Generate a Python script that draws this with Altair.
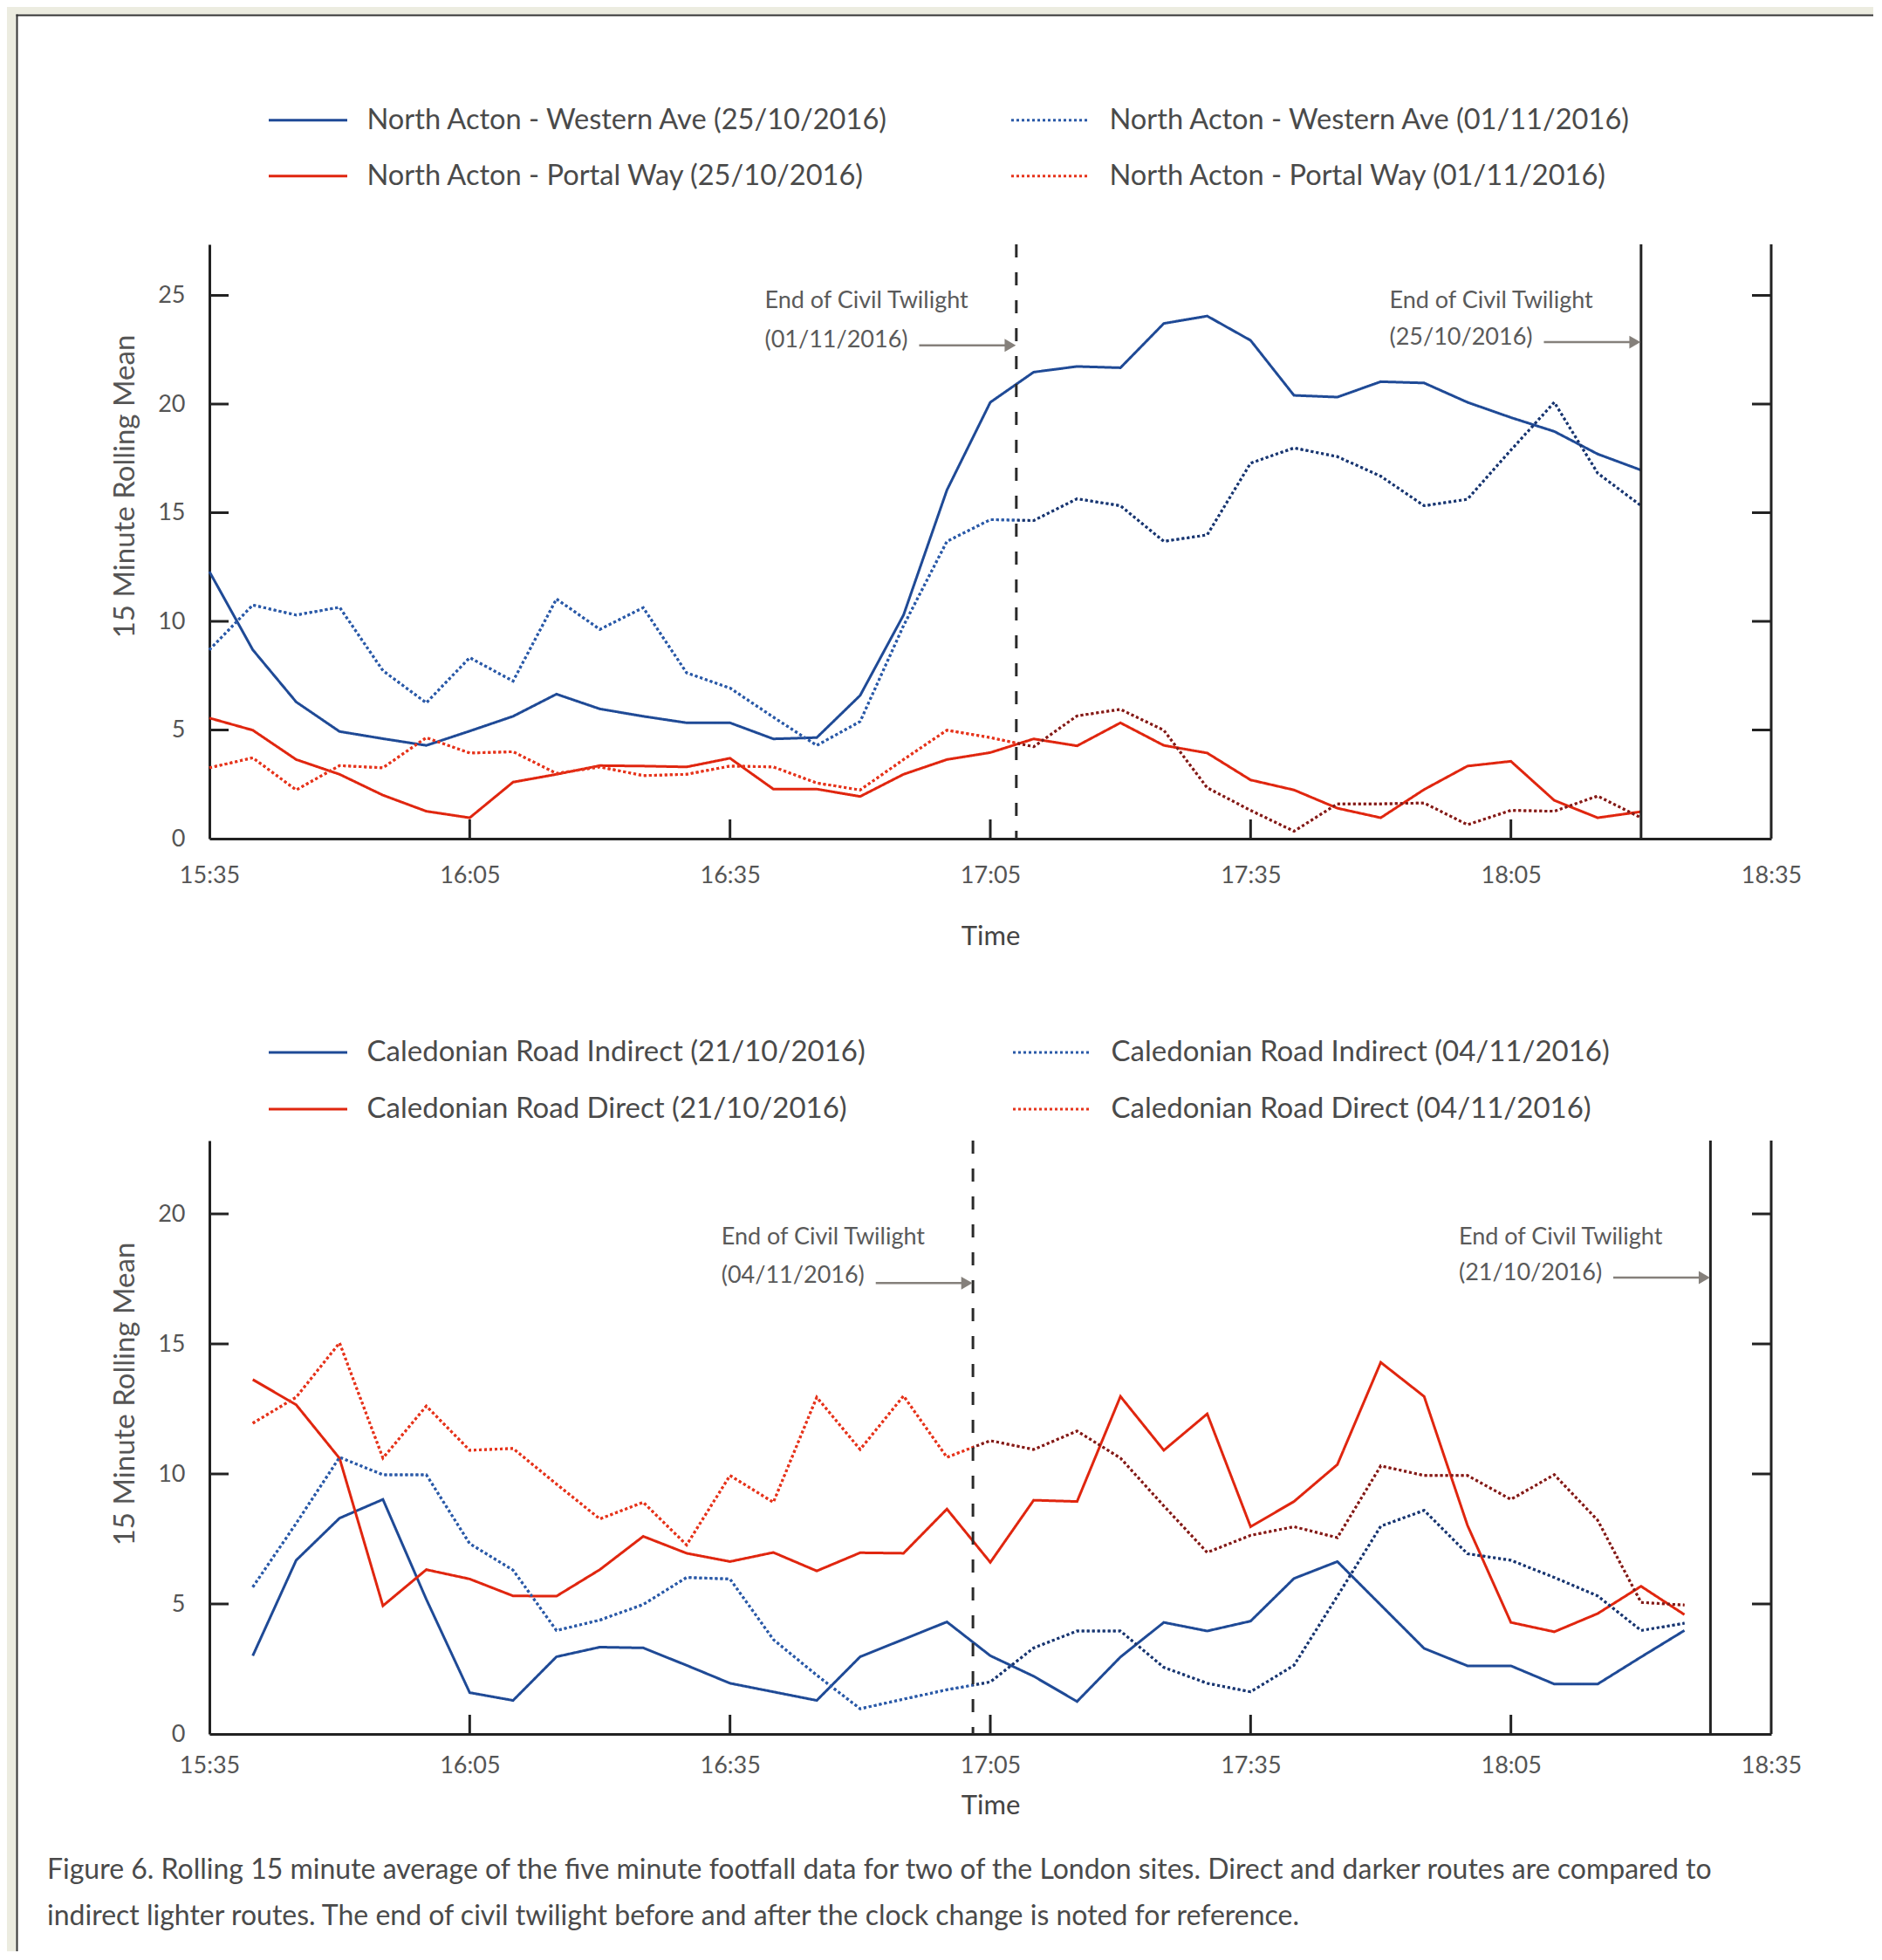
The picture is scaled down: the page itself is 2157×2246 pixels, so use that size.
import altair as alt
import pandas as pd

FONT = "Lato"
AXIS_COLOR = "#222222"
TICK_TEXT = "#555555"
LEGEND_TEXT = "#4a4a4a"
ANNOT_TEXT = "#5a5a5a"
ARROW_COLOR = "#85807b"
BEIGE = "#ecece0"
FRAME = "#333333"
BLUE = "#1f4a96"
BLUE_DOT = "#2b5aa8"
BLUE_DOT_DARK = "#1b356c"
RED = "#e0260f"
RED_DOT = "#e6341c"
RED_DOT_DARK = "#7a1d1d"
SOLID = [1, 0]
DOT = [3, 3]

W = 1790
H_TOP = 681
H_BOT = 680

# ---------------- axis definitions ----------------
XTICK_VALUES = [0, 30, 60, 90, 120, 150, 180]          # minutes after 15:35
XTICK_LABELS = ["15:35", "16:05", "16:35", "17:05", "17:35", "18:05", "18:35"]
TOP_YTICKS = [0, 5, 10, 15, 20, 25]
BOT_YTICKS = [0, 5, 10, 15, 20]
TOP_YMAX = 27.35
BOT_YMAX = 22.82

# ---------------- top panel: North Acton ----------------
TOP_TIMES = list(range(0, 166, 5))   # 15:35 ... 18:20, every 5 minutes
TOP_NAMES = [
    "North Acton - Western Ave (25/10/2016)",
    "North Acton - Western Ave (01/11/2016)",
    "North Acton - Portal Way (25/10/2016)",
    "North Acton - Portal Way (01/11/2016)",
]
WESTERN_25 = [12.29, 8.69, 6.29, 4.93, 4.6, 4.29, 4.95, 5.63, 6.65, 5.97, 5.63, 5.33,
              5.33, 4.59, 4.65, 6.59, 10.29, 16.04, 20.08,
              21.47, 21.73, 21.67, 23.71, 24.05, 22.93, 20.40, 20.32, 21.03, 20.97,
              20.08, 19.38, 18.74, 17.70, 16.96]
WESTERN_01 = [8.69, 10.75, 10.29, 10.65, 7.73, 6.25, 8.33, 7.25, 11.03, 9.63, 10.63, 7.63,
              6.93, 5.59, 4.29, 5.39, 9.8, 13.68, 14.68,
              14.64, 15.64, 15.32, 13.68, 13.98, 17.28, 17.98, 17.58, 16.68, 15.32,
              15.62, 17.88, 20.08, 16.82, 15.32]
PORTAL_25 = [5.55, 4.99, 3.64, 2.96, 2.0, 1.26, 0.96, 2.60, 2.96, 3.36, 3.34, 3.30,
             3.70, 2.28, 2.28, 1.94, 2.96, 3.64, 3.96,
             4.59, 4.27, 5.33, 4.29, 3.94, 2.70, 2.24, 1.40, 0.96, 2.26,
             3.34, 3.56, 1.76, 0.96, 1.24]
PORTAL_01 = [3.26, 3.72, 2.24, 3.36, 3.26, 4.65, 3.94, 4.0, 3.0, 3.30, 2.90, 2.96,
             3.34, 3.30, 2.56, 2.24, 3.64, 4.99, 4.65,
             4.23, 5.65, 5.95, 4.99, 2.34, 1.30, 0.34, 1.60, 1.60, 1.64,
             0.64, 1.30, 1.26, 1.96, 0.96]
TOP_TWILIGHT = {"01/11/2016": "17:08", "25/10/2016": "18:20"}

# ---------------- bottom panel: Caledonian Road ----------------
BOT_TIMES = list(range(5, 171, 5))   # 15:40 ... 18:25, every 5 minutes
BOT_NAMES = [
    "Caledonian Road Indirect (21/10/2016)",
    "Caledonian Road Indirect (04/11/2016)",
    "Caledonian Road Direct (21/10/2016)",
    "Caledonian Road Direct (04/11/2016)",
]
INDIRECT_21 = [3.01, 6.68, 8.30, 9.02, 5.18, 1.59, 1.29, 2.97, 3.34, 3.31, 2.64, 1.95,
               1.62, 1.29, 2.97, 3.64, 4.31, 3.01,
               2.22, 1.25, 2.96, 4.29, 3.96, 4.34, 5.98, 6.63, 4.96, 3.29, 2.62, 2.62,
               1.92, 1.92, 2.96, 3.98]
INDIRECT_04 = [5.65, 8.10, 10.64, 9.97, 9.97, 7.32, 6.30, 3.98, 4.38, 4.98, 6.02, 5.96,
               3.63, 2.26, 0.97, 1.34, 1.70, 2.00,
               3.31, 3.96, 3.96, 2.56, 1.95, 1.62, 2.64, 5.3, 7.99, 8.60, 6.93, 6.68,
               6.02, 5.31, 3.98, 4.26]
DIRECT_21 = [13.63, 12.66, 10.6, 4.93, 6.32, 5.96, 5.31, 5.30, 6.32, 7.60, 6.95, 6.63,
             6.98, 6.27, 6.97, 6.95, 8.65, 6.60,
             8.99, 8.94, 12.98, 10.91, 12.31, 7.97, 8.94, 10.36, 14.29, 12.98, 8.02, 4.29,
             3.93, 4.63, 5.68, 4.59]
DIRECT_04 = [11.95, 12.95, 15.04, 10.61, 12.61, 10.91, 10.98, 9.61, 8.27, 8.91, 7.27, 9.94,
             8.91, 12.95, 10.94, 13.0, 10.64, 11.28,
             10.94, 11.65, 10.61, 8.77, 6.98, 7.64, 7.97, 7.55, 10.31, 9.94, 9.94, 9.02,
             9.97, 8.22, 5.06, 4.96]
BOT_TWILIGHT = {"04/11/2016": "17:03", "21/10/2016": "18:28"}

CAPTION = [
    "Figure 6. Rolling 15 minute average of the five minute footfall data for two of the London sites. Direct and darker routes are compared to",
    "indirect lighter routes. The end of civil twilight before and after the clock change is noted for reference.",
]
ANNOT_LINE1 = "End of Civil Twilight"


def minutes(hhmm):
    h, m = hhmm.split(":")
    return int(h) * 60 + int(m) - (15 * 60 + 35)


def panel(times, names, values, colors, dots, dark_colors, twilight, ymax, yticks,
          height, xlab_pad, xtitle_y, ytitle_y, legend_y, legend_colpad, legend_rowpad,
          legend_font, annot_y, deco=False, caption=False):
    rows = []
    for name, vals in zip(names, values):
        for t, v in zip(times, vals):
            rows.append({"t": t, "v": v, "series": name})
    df = pd.DataFrame(rows)

    xscale = alt.Scale(domain=[0, 180], nice=False, zero=False)
    yscale = alt.Scale(domain=[0, ymax], nice=False, zero=True)
    xaxis = alt.Axis(values=XTICK_VALUES,
                     labelExpr=str(XTICK_LABELS).replace("'", '"') + "[round(datum.value / 30)]",
                     ticks=False, tickSize=0, grid=False, domainColor=AXIS_COLOR,
                     domainWidth=3, labelFont=FONT, labelFontSize=27, labelColor=TICK_TEXT,
                     labelPadding=xlab_pad, labelBaseline="middle", labelFlush=False,
                     labelOverlap=False, title="Time", titleFont=FONT, titleFontSize=31,
                     titleFontWeight="normal", titleColor="#444444", titleY=xtitle_y,
                     titleBaseline="middle")
    yaxis = alt.Axis(values=yticks, ticks=False, tickSize=0, grid=False,
                     domainColor=AXIS_COLOR, domainWidth=3, labelFont=FONT,
                     labelFontSize=27, labelColor=TICK_TEXT, labelPadding=28,
                     title="15 Minute Rolling Mean", titleFont=FONT, titleFontSize=33,
                     titleFontWeight="normal", titleColor=TICK_TEXT, titleAngle=270,
                     titleX=-97, titleY=ytitle_y, titleAlign="center",
                     titleBaseline="middle")
    X = alt.X("t:Q", scale=xscale, axis=xaxis)
    Y = alt.Y("v:Q", scale=yscale, axis=yaxis)

    legend = alt.Legend(title=None, orient="none", legendX=66.5, legendY=legend_y,
                        direction="horizontal", columns=2, columnPadding=legend_colpad,
                        rowPadding=legend_rowpad, symbolType="stroke", symbolSize=8100,
                        symbolStrokeWidth=3, clipHeight=40, labelFont=FONT,
                        labelFontSize=legend_font, labelColor=LEGEND_TEXT, labelOffset=21,
                        labelLimit=2000, padding=0)
    dashes = [DOT if i in dots else SOLID for i in range(len(names))]
    layers = []
    one = pd.DataFrame({"a": [1]})

    if deco:
        layers.append(alt.Chart(one).mark_rect(color=BEIGE).encode(
            x=alt.value(-232), x2=alt.value(1907), y=alt.value(-272), y2=alt.value(-263.5)))
        layers.append(alt.Chart(one).mark_rect(color=BEIGE).encode(
            x=alt.value(-232), x2=alt.value(-221.5), y=alt.value(-272), y2=alt.value(1956)))
        layers.append(alt.Chart(one).mark_rule(color=FRAME, strokeWidth=2).encode(
            x=alt.value(-221.5), x2=alt.value(1907), y=alt.value(-262.5)))
        layers.append(alt.Chart(one).mark_rule(color=FRAME, strokeWidth=2).encode(
            x=alt.value(-220.5), y=alt.value(-263.5), y2=alt.value(1956)))

    layers.append(alt.Chart(df).mark_line(strokeWidth=3).encode(
        x=X, y=Y,
        color=alt.Color("series:N", scale=alt.Scale(domain=names, range=colors),
                        legend=legend),
        strokeDash=alt.StrokeDash("series:N", scale=alt.Scale(domain=names, range=dashes),
                                  legend=legend),
    ))

    tw_before = list(twilight.values())[0]
    tw = minutes(tw_before)
    f = (tw - times[0]) / (times[-1] - times[0])
    for i in dots:
        grad = alt.LinearGradient(
            gradient="linear", x1=0, x2=1, y1=0, y2=0,
            stops=[alt.GradientStop(offset=0, color=colors[i]),
                   alt.GradientStop(offset=f, color=colors[i]),
                   alt.GradientStop(offset=f, color=dark_colors[i]),
                   alt.GradientStop(offset=1, color=dark_colors[i])])
        sub = df[df["series"] == names[i]]
        layers.append(alt.Chart(sub).mark_line(stroke=grad, strokeWidth=3,
                                               strokeDash=DOT).encode(x=X, y=Y))

    # inward ticks and right-hand axis line
    xt = pd.DataFrame({"t": XTICK_VALUES[1:-1]})
    yt = pd.DataFrame({"v": yticks[1:]})
    layers.append(alt.Chart(xt).mark_rule(color=AXIS_COLOR, strokeWidth=3).encode(
        x=X, y=alt.value(height), y2=alt.value(height - 22)))
    layers.append(alt.Chart(yt).mark_rule(color=AXIS_COLOR, strokeWidth=3).encode(
        y=Y, x=alt.value(0), x2=alt.value(22)))
    layers.append(alt.Chart(yt).mark_rule(color=AXIS_COLOR, strokeWidth=3).encode(
        y=Y, x=alt.value(W - 22), x2=alt.value(W)))
    layers.append(alt.Chart(one).mark_rule(color=AXIS_COLOR, strokeWidth=3).encode(
        x=alt.value(W), y=alt.value(0), y2=alt.value(height)))

    # civil twilight lines
    dates = list(twilight.keys())
    tws = [minutes(twilight[d]) for d in dates]
    layers.append(alt.Chart(pd.DataFrame({"t": [tws[0]]})).mark_rule(
        color="#2a2a2a", strokeWidth=3, strokeDash=[15, 17]).encode(x=X))
    layers.append(alt.Chart(pd.DataFrame({"t": [tws[1]]})).mark_rule(
        color="#222222", strokeWidth=3).encode(x=X))

    # annotations
    ann = []
    arr = []
    for d, t, (y1, y2, ya) in zip(dates, tws, annot_y):
        ann.append({"t": t - 29, "v": y1, "label": ANNOT_LINE1})
        ann.append({"t": t - 29, "v": y2, "label": "(" + d + ")"})
        arr.append({"t": t - 11.2, "t2": t - 1.2, "v": ya, "tip": t})
    ann = pd.DataFrame(ann)
    arr = pd.DataFrame(arr)
    layers.append(alt.Chart(ann).mark_text(align="left", baseline="middle", font=FONT,
                                           fontSize=27, color=ANNOT_TEXT).encode(
        x=X, y=Y, text="label:N"))
    layers.append(alt.Chart(arr).mark_rule(color=ARROW_COLOR, strokeWidth=2.5).encode(
        x=X, x2="t2:Q", y=Y))
    layers.append(alt.Chart(arr).mark_point(shape="triangle-right", filled=True, size=220,
                                            color=ARROW_COLOR, opacity=1, xOffset=-7).encode(
        x=alt.X("tip:Q", scale=xscale, axis=xaxis), y=Y))

    if caption:
        for k, line in enumerate(CAPTION):
            layers.append(alt.Chart(one).mark_text(
                align="left", baseline="middle", font=FONT, fontSize=32,
                color="#4a4a4a").encode(
                text=alt.value(line), x=alt.value(-186), y=alt.value(835.5 + 53 * k)))

    return alt.layer(*layers).properties(width=W, height=height)


top = panel(TOP_TIMES, TOP_NAMES, [WESTERN_25, WESTERN_01, PORTAL_25, PORTAL_01],
            [BLUE, BLUE_DOT, RED, RED_DOT], [1, 3],
            {1: BLUE_DOT_DARK, 3: RED_DOT_DARK}, TOP_TWILIGHT, TOP_YMAX, TOP_YTICKS,
            H_TOP, xlab_pad=42, xtitle_y=112, ytitle_y=277, legend_y=-162.2,
            legend_colpad=138, legend_rowpad=24, legend_font=32.6,
            annot_y=[(24.72, 22.95, 22.7), (24.72, 23.05, 22.85)], deco=True)

bottom = panel(BOT_TIMES, BOT_NAMES, [INDIRECT_21, INDIRECT_04, DIRECT_21, DIRECT_04],
               [BLUE, BLUE_DOT, RED, RED_DOT], [1, 3],
               {1: BLUE_DOT_DARK, 3: RED_DOT_DARK}, BOT_TWILIGHT, BOT_YMAX, BOT_YTICKS,
               H_BOT, xlab_pad=36, xtitle_y=82, ytitle_y=290, legend_y=-121,
               legend_colpad=167, legend_rowpad=25, legend_font=33,
               annot_y=[(19.09, 17.61, 17.34), (19.09, 17.71, 17.55)], caption=True)

chart = alt.vconcat(top, bottom, spacing=346, bounds="flush").resolve_scale(
    color="independent", strokeDash="independent"
).resolve_legend(
    color="independent", strokeDash="independent"
).properties(padding=0).configure(background="white").configure_view(strokeWidth=0)

chart.save("out.html", embed_options={"renderer": "svg", "actions": False})
